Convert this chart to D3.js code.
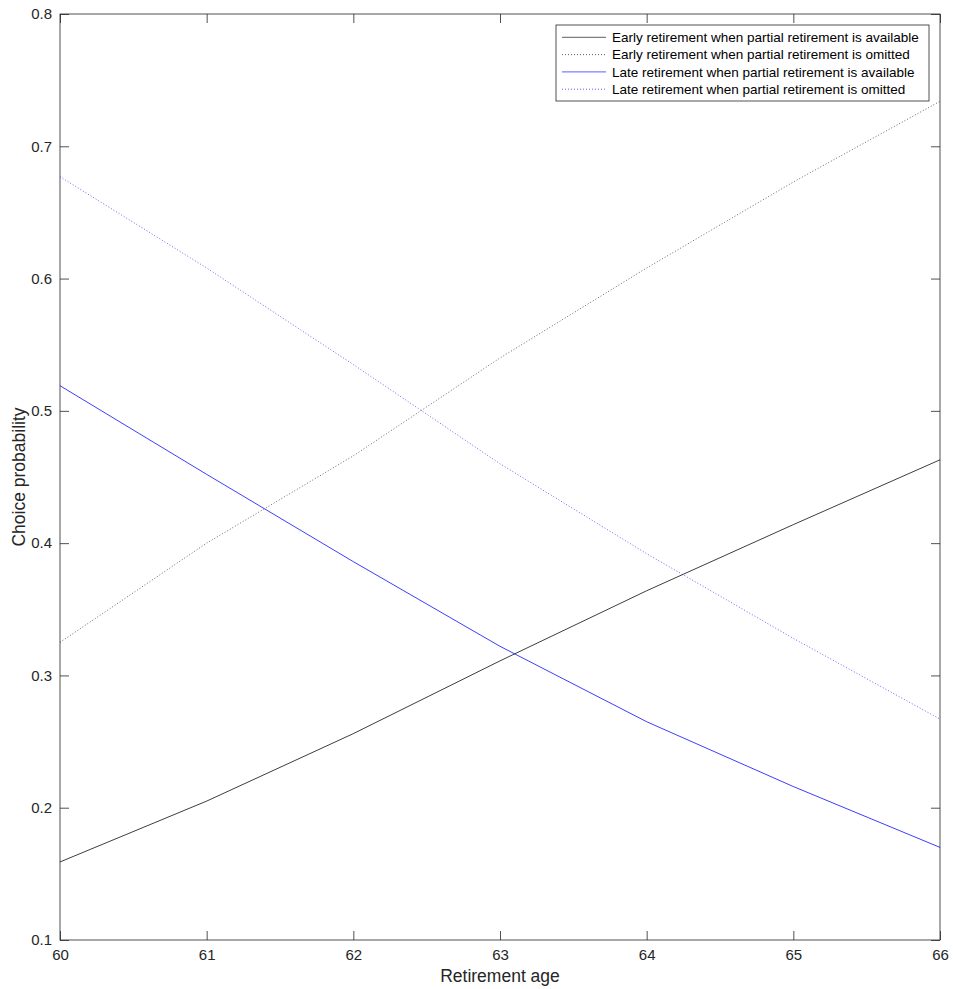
<!DOCTYPE html>
<html>
<head>
<meta charset="utf-8">
<script src="https://cdn.jsdelivr.net/npm/d3@7"></script>
<style>
  body { margin: 0; background: #fff; }
  svg { display: block; font-family: "Liberation Sans", Arial, Helvetica, sans-serif; }
</style>
</head>
<body>
<div id="chart"></div>
<script>
// retirement ages on the x axis
const ages = [60, 61, 62, 63, 64, 65, 66];

// choice probabilities per series
const earlyAvailable = [0.159, 0.205, 0.256, 0.311, 0.364, 0.414, 0.463];
const earlyOmitted = [0.325, 0.400, 0.466, 0.540, 0.608, 0.673, 0.734];
const lateAvailable = [0.519, 0.452, 0.386, 0.322, 0.265, 0.216, 0.170];
const lateOmitted = [0.677, 0.608, 0.535, 0.460, 0.392, 0.328, 0.267];

const seriesNames = [
    "Early retirement when partial retirement is available",
    "Early retirement when partial retirement is omitted",
    "Late retirement when partial retirement is available",
    "Late retirement when partial retirement is omitted"
];

const xTicks = [60, 61, 62, 63, 64, 65, 66];
const yTicks = [0.1, 0.2, 0.3, 0.4, 0.5, 0.6, 0.7, 0.8];

const width = 953, height = 989;
const margin = { top: 14, right: 13, bottom: 49, left: 60 };
const innerW = width - margin.left - margin.right;
const innerH = height - margin.top - margin.bottom;

const series = [
    { name: seriesNames[0], values: earlyAvailable, color: "#000", dash: null },
    { name: seriesNames[1], values: earlyOmitted, color: "#000", dash: "1,2" },
    { name: seriesNames[2], values: lateAvailable, color: "#0000ff", dash: null },
    { name: seriesNames[3], values: lateOmitted, color: "#0000ff", dash: "1,2" }
];

const x = d3.scaleLinear().domain([60, 66]).range([0, innerW]);
const y = d3.scaleLinear().domain([0.1, 0.8]).range([innerH, 0]);

const svg = d3.select("#chart").append("svg")
    .attr("width", width)
    .attr("height", height);

const g = svg.append("g")
    .attr("transform", `translate(${margin.left},${margin.top})`);

const axisColor = "#262626";

// axes, ticks pointing inward
const tickLen = 9;
const styleAxis = sel => {
    sel.select(".domain").remove();
    sel.selectAll(".tick line").attr("stroke", axisColor).attr("stroke-width", 0.8);
    sel.selectAll(".tick text").attr("fill", axisColor).style("font-size", "15px");
};

g.append("g")
    .attr("transform", `translate(0,${innerH})`)
    .call(d3.axisBottom(x).tickValues(xTicks).tickFormat(d3.format("d"))
        .tickSizeInner(-tickLen).tickSizeOuter(0).tickPadding(9))
    .call(styleAxis);

g.append("g")
    .call(d3.axisTop(x).tickValues(xTicks).tickFormat("")
        .tickSizeInner(-tickLen).tickSizeOuter(0))
    .call(styleAxis);

g.append("g")
    .call(d3.axisLeft(y).tickValues(yTicks).tickFormat(d3.format(".1f"))
        .tickSizeInner(-tickLen).tickSizeOuter(0).tickPadding(8))
    .call(styleAxis);

g.append("g")
    .attr("transform", `translate(${innerW},0)`)
    .call(d3.axisRight(y).tickValues(yTicks).tickFormat("")
        .tickSizeInner(-tickLen).tickSizeOuter(0))
    .call(styleAxis);

// box
g.append("rect")
    .attr("width", innerW)
    .attr("height", innerH)
    .attr("fill", "none")
    .attr("stroke", axisColor)
    .attr("stroke-width", 0.8);

// lines
const line = d3.line()
    .x((d, i) => x(ages[i]))
    .y(d => y(d));

g.selectAll(".series")
    .data(series)
    .join("path")
    .attr("class", "series")
    .attr("d", d => line(d.values))
    .attr("fill", "none")
    .attr("stroke", d => d.color)
    .attr("stroke-width", d => d.dash ? 0.8 : 0.9)
    .attr("stroke-opacity", d => d.dash ? 0.75 : 0.85)
    .attr("stroke-dasharray", d => d.dash);

// axis titles
svg.append("text")
    .attr("x", margin.left + innerW / 2)
    .attr("y", 982)
    .attr("text-anchor", "middle")
    .attr("fill", axisColor)
    .style("font-size", "17.5px")
    .text("Retirement age");

svg.append("text")
    .attr("transform", `translate(25,${margin.top + innerH / 2}) rotate(-90)`)
    .attr("text-anchor", "middle")
    .attr("fill", axisColor)
    .style("font-size", "17.5px")
    .text("Choice probability");

// legend
const legend = svg.append("g").attr("transform", "translate(556,25)");
legend.append("rect")
    .attr("width", 373)
    .attr("height", 76)
    .attr("fill", "#fff")
    .attr("stroke", axisColor)
    .attr("stroke-width", 0.8);

const item = legend.selectAll(".item")
    .data(series)
    .join("g")
    .attr("class", "item")
    .attr("transform", (d, i) => `translate(0,${12.3 + i * 17.3})`);

item.append("line")
    .attr("x1", 6).attr("x2", 50)
    .attr("stroke", d => d.color)
    .attr("stroke-width", 0.8)
    .attr("stroke-opacity", 0.8)
    .attr("stroke-dasharray", d => d.dash);

item.append("text")
    .attr("x", 56)
    .attr("dy", "0.35em")
    .attr("fill", "#000")
    .style("font-size", "13.5px")
    .text(d => d.name);
</script>
</body>
</html>
